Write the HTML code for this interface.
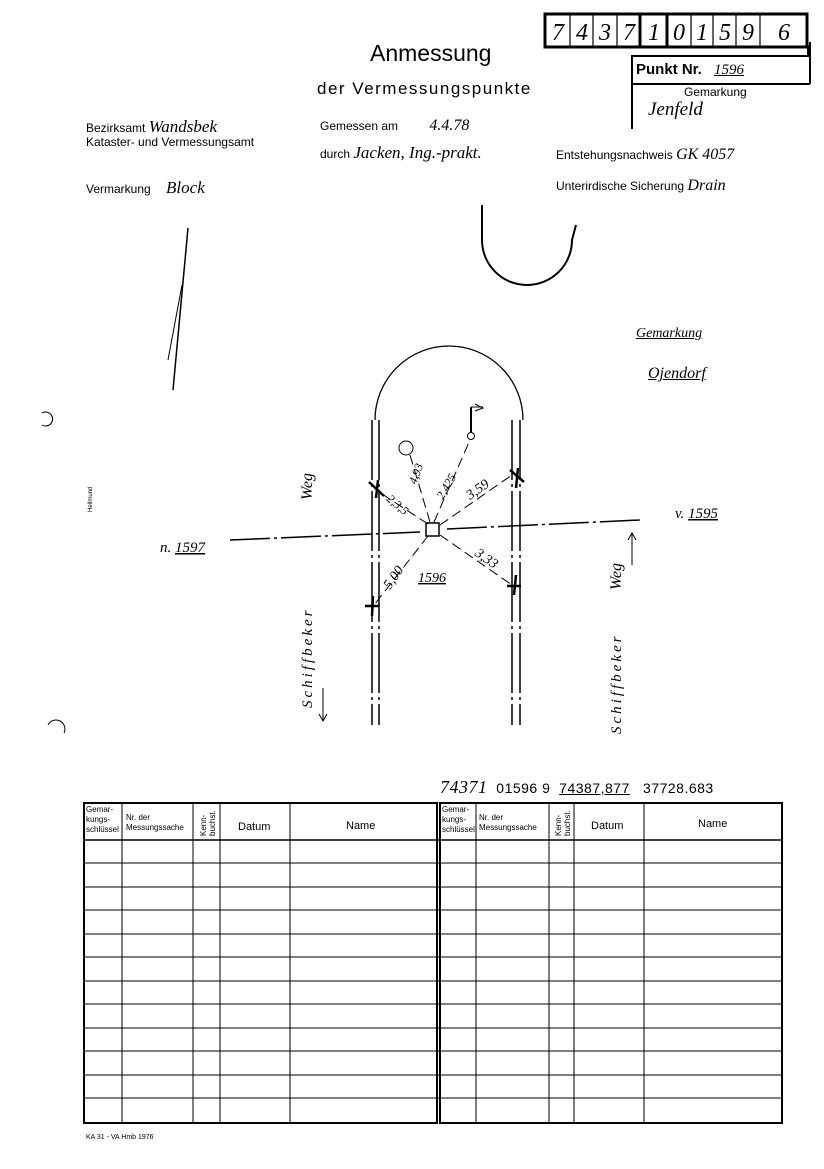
<!DOCTYPE html>
<html><head><meta charset="utf-8"><style>
body{margin:0;background:#fff;width:824px;height:1169px;overflow:hidden;position:relative;font-family:"Liberation Sans",sans-serif;color:#000}
.t{position:absolute;white-space:nowrap;line-height:1}
.h{font-family:"Liberation Serif",serif;font-style:italic}
</style></head><body>
<div class="t" style="left:370px;top:42px;font-size:23px">Anmessung</div>
<div class="t" style="left:317px;top:80px;font-size:17px;letter-spacing:1.5px">der Vermessungspunkte</div>
<div class="t" style="left:86px;top:118px;font-size:12px">Bezirksamt <span class="h" style="font-size:17px">Wandsbek</span></div>
<div class="t" style="left:86px;top:136px;font-size:12px">Kataster- und Vermessungsamt</div>
<div class="t" style="left:320px;top:118px;font-size:12px">Gemessen am <span class="h" style="font-size:16px;margin-left:28px">4.4.78</span></div>
<div class="t" style="left:320px;top:144px;font-size:12px">durch <span class="h" style="font-size:17px">Jacken, Ing.-prakt.</span></div>
<div class="t" style="left:556px;top:147px;font-size:12px">Entstehungsnachweis <span class="h" style="font-size:16px">GK 4057</span></div>
<div class="t" style="left:86px;top:179px;font-size:12px">Vermarkung <span class="h" style="font-size:17px;margin-left:12px">Block</span></div>
<div class="t" style="left:556px;top:178px;font-size:12px">Unterirdische Sicherung <span class="h" style="font-size:16px">Drain</span></div>
<div class="t" style="left:636px;top:62px;font-size:15px;font-weight:bold">Punkt Nr. <span class="h" style="font-weight:normal;margin-left:8px;text-decoration:underline">1596</span></div>
<div class="t" style="left:684px;top:86px;font-size:12px">Gemarkung</div>
<div class="t h" style="left:648px;top:100px;font-size:19px">Jenfeld</div>
<div class="t h" style="left:636px;top:327px;font-size:14px;text-decoration:underline">Gemarkung</div>
<div class="t h" style="left:648px;top:366px;font-size:16px;text-decoration:underline">Ojendorf</div>
<div class="t" style="left:440px;top:778px;font-size:14px;letter-spacing:.5px"><span class="h" style="font-size:18px">74371</span>&nbsp; 01596 9&nbsp; <u>74387,877</u>&nbsp;&nbsp; 37728.683</div>
<div class="t" style="left:86px;top:1134px;font-size:7px">KA 31 - VA Hmb 1976</div>
<svg width="824" height="1169" style="position:absolute;left:0;top:0" font-family="Liberation Sans, sans-serif">
<g fill="none" stroke="#000">
<rect x="545" y="14" width="262" height="33" stroke-width="3"/>
<g stroke-width="1.2"><line x1="570" y1="14" x2="570" y2="47"/><line x1="593" y1="14" x2="593" y2="47"/><line x1="617" y1="14" x2="617" y2="47"/><line x1="691" y1="14" x2="691" y2="47"/><line x1="713" y1="14" x2="713" y2="47"/><line x1="736" y1="14" x2="736" y2="47"/><line x1="760" y1="14" x2="760" y2="47"/></g>
<line x1="640" y1="14" x2="640" y2="47" stroke-width="3"/><line x1="667" y1="14" x2="667" y2="47" stroke-width="3"/>
<polyline points="632,129 632,56 808,56 808,45" stroke-width="2"/>
<line x1="632" y1="84" x2="810" y2="84" stroke-width="2"/>
<line x1="810" y1="42" x2="810" y2="84" stroke-width="2"/>
<path d="M482 205 L482 240 A45 45 0 0 0 572 240 L576 225" stroke-width="2"/>
<line x1="188" y1="228" x2="173" y2="390" stroke-width="1.5"/><line x1="182" y1="285" x2="168" y2="360"/>
<path d="M375 420 A74 74 0 0 1 523 420" stroke-width="1.3"/>
<g stroke-width="1.5" stroke-dasharray="60 4 3 4">
<line x1="372" y1="420" x2="372" y2="725"/><line x1="379" y1="420" x2="379" y2="725"/>
<line x1="512" y1="420" x2="512" y2="725"/><line x1="520" y1="420" x2="520" y2="725"/>
</g>
<g stroke-width="1.5" stroke-dasharray="40 4 3 4">
<line x1="230" y1="540" x2="420" y2="532"/><line x1="447" y1="529" x2="640" y2="520"/>
</g>
<rect x="426" y="523" width="13" height="13" stroke-width="1.5"/>
<g stroke-width="1" stroke-dasharray="10 5">
<line x1="428" y1="524" x2="376" y2="490"/><line x1="430" y1="522" x2="410" y2="455"/><line x1="434" y1="522" x2="470" y2="440"/>
<line x1="440" y1="525" x2="512" y2="475"/><line x1="440" y1="535" x2="512" y2="585"/><line x1="428" y1="536" x2="374" y2="605"/>
</g>
<circle cx="406" cy="448" r="7"/><circle cx="471" cy="436" r="3.5"/><line x1="471" y1="432" x2="471" y2="407" stroke-width="2"/><path d="M471 407 h12 M475 404 l8 4 -8 3"/>
<g stroke-width="2.5"><path d="M369 482 l15 14 M378 480 l-2 18"/><path d="M510 470 l14 12 M518 468 l-2 20"/><path d="M507 586 l14 0 M516 575 l-2 20"/><path d="M365 606 l14 0 M373 596 l-1 20"/></g>
<line x1="323" y1="688" x2="323" y2="720"/><path d="M319 714 l4 7 4 -7"/>
<line x1="632" y1="534" x2="632" y2="565"/><path d="M628 540 l4 -7 4 7"/>
<path d="M42 413 a7 7 0 1 1 0 12 M48 725 a8 8 0 0 1 16 8"/>
<rect x="84" y="803" width="353" height="320" stroke-width="2"/>
<rect x="440" y="803" width="342" height="320" stroke-width="2"/>
<g stroke-width="1">
<line x1="122" y1="803" x2="122" y2="1123"/><line x1="193" y1="803" x2="193" y2="1123"/><line x1="220" y1="803" x2="220" y2="1123"/><line x1="290" y1="803" x2="290" y2="1123"/>
<line x1="476" y1="803" x2="476" y2="1123"/><line x1="549" y1="803" x2="549" y2="1123"/><line x1="574" y1="803" x2="574" y2="1123"/><line x1="644" y1="803" x2="644" y2="1123"/>
<line x1="84" y1="840" x2="782" y2="840" stroke-width="1.5"/>
<path d="M84 863H782M84 887H782M84 910H782M84 934H782M84 957H782M84 981H782M84 1004H782M84 1028H782M84 1051H782M84 1075H782M84 1098H782"/>
</g>
</g>
<g font-size="12" font-family="Liberation Serif, serif" font-style="italic">
<text x="386" y="500" transform="rotate(40 386 500)">2,3,5</text>
<text x="416" y="485" transform="rotate(-70 416 485)">4,93</text>
<text x="443" y="500" transform="rotate(-60 443 500)">2,425</text>
<text x="470" y="500" transform="rotate(-35 470 500)" font-size="14">3,59</text>
<text x="474" y="555" transform="rotate(35 474 555)" font-size="14">3,33</text>
<text x="390" y="590" transform="rotate(-55 390 590)" font-size="14">5,00</text>
<text x="418" y="582" text-decoration="underline" font-size="14">1596</text>
<text x="160" y="552" font-size="15">n. <tspan text-decoration="underline">1597</tspan></text>
<text x="675" y="518" font-size="15">v. <tspan text-decoration="underline">1595</tspan></text>
<text x="312" y="500" transform="rotate(-90 312 500)" font-size="16">Weg</text>
<text x="312" y="708" transform="rotate(-90 312 708)" font-size="15" letter-spacing="3">Schiffbeker</text>
<text x="621" y="590" transform="rotate(-90 621 590)" font-size="16">Weg</text>
<text x="621" y="734" transform="rotate(-90 621 734)" font-size="15" letter-spacing="3">Schiffbeker</text>
</g>
<text x="92" y="512" font-size="6" transform="rotate(-90 92 512)">Hellmund</text>
<g font-size="8" font-family="Liberation Sans Narrow, Liberation Sans, sans-serif">
<text x="86" y="812">Gemar-</text><text x="86" y="822">kungs-</text><text x="86" y="832">schlüssel</text>
<text x="126" y="820">Nr. der</text><text x="126" y="830">Messungssache</text>
<text x="206" y="836" transform="rotate(-90 206 836)">Kenn-</text><text x="215" y="836" transform="rotate(-90 215 836)">buchst.</text>
<text x="442" y="812">Gemar-</text><text x="442" y="822">kungs-</text><text x="442" y="832">schlüssel</text>
<text x="479" y="820">Nr. der</text><text x="479" y="830">Messungssache</text>
<text x="561" y="836" transform="rotate(-90 561 836)">Kenn-</text><text x="570" y="836" transform="rotate(-90 570 836)">buchst.</text>
</g>
<g font-size="11"><text x="238" y="830">Datum</text><text x="346" y="829">Name</text><text x="591" y="829">Datum</text><text x="698" y="827">Name</text></g>
<g font-size="24" font-family="Liberation Serif, serif" font-style="italic" text-anchor="middle">
<text x="558" y="40">7</text><text x="582" y="40">4</text><text x="605" y="40">3</text><text x="629" y="40">7</text><text x="654" y="40">1</text><text x="679" y="40">0</text><text x="702" y="40">1</text><text x="725" y="40">5</text><text x="748" y="40">9</text><text x="784" y="40">6</text>
</g>
</svg>
</body></html>
